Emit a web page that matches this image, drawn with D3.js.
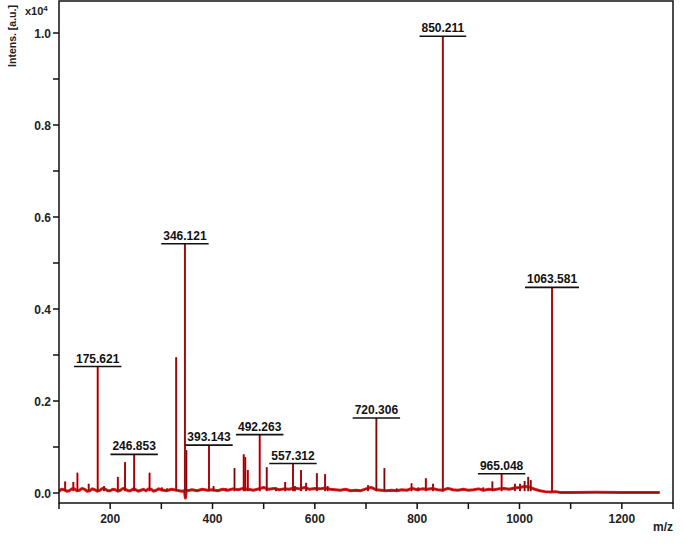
<!DOCTYPE html>
<html><head><meta charset="utf-8">
<script src="https://cdn.jsdelivr.net/npm/d3@7"></script>
<style>
html,body{margin:0;padding:0;background:#fff;}
svg{display:block;font-family:"Liberation Sans",Arial,sans-serif;}
</style></head>
<body><svg id="c" width="683" height="545"></svg>
<script>
// ---- data (m/z, intensity x10^4) ----
const peakMz  = [112,128,136,158,175.621,188,215,229,246.853,277,301,311,329,346.121,349,393.143,402,426,443,461,464,469,492.263,506,524,542,557.312,561,573,583,604,620,625,704,720.306,736,760,789,802,817,831,850.211,929,947,965.048,991,1001,1010,1017,1022,1063.581];
const peakInt = [0.025,0.024,0.044,0.020,0.275,0.015,0.035,0.067,0.084,0.044,0.012,0.010,0.295,0.542,0.093,0.104,0.015,0.010,0.054,0.084,0.078,0.050,0.127,0.056,0.012,0.024,0.064,0.015,0.050,0.022,0.043,0.041,0.015,0.017,0.163,0.054,0.010,0.021,0.012,0.032,0.020,0.993,0.012,0.025,0.042,0.020,0.020,0.026,0.035,0.028,0.447];
const noiseMz  = [100,105,110,115,120,125,130,135,140,145,150,155,160,165,170,175,180,185,190,195,200,205,210,215,220,225,230,235,240,245,250,255,260,265,270,275,280,285,290,295,300,310,320,330,340,345,347,349,355,360,370,380,390,400,410,420,430,440,450,460,470,480,490,500,510,520,530,540,550,560,570,580,590,600,610,620,630,640,650,660,670,680,690,700,710,720,730,740,750,760,770,780,790,800,810,820,830,840,850,860,870,880,890,900,910,920,930,940,950,960,970,980,990,1000,1010,1020,1030,1040,1050,1060,1070,1080,1100,1150,1200,1274];
const noiseInt = [0.004,0.008,0.007,0.004,0.005,0.009,0.009,0.005,0.006,0.010,0.008,0.004,0.005,0.009,0.007,0.004,0.006,0.010,0.009,0.005,0.005,0.008,0.007,0.004,0.006,0.010,0.008,0.005,0.005,0.009,0.007,0.004,0.006,0.008,0.005,0.009,0.008,0.004,0.006,0.009,0.007,0.005,0.008,0.006,0.004,0.005,-0.011,0.005,0.006,0.007,0.005,0.008,0.006,0.007,0.005,0.008,0.006,0.009,0.007,0.010,0.008,0.006,0.009,0.012,0.008,0.010,0.007,0.009,0.008,0.011,0.009,0.012,0.008,0.010,0.009,0.011,0.008,0.007,0.006,0.008,0.005,0.006,0.005,0.009,0.012,0.007,0.006,0.005,0.006,0.005,0.007,0.006,0.010,0.007,0.009,0.008,0.010,0.007,0.006,0.010,0.007,0.006,0.008,0.006,0.007,0.009,0.006,0.008,0.007,0.009,0.010,0.008,0.011,0.012,0.014,0.013,0.008,0.005,0.003,0.002,0.003,0.001,0.001,0.0015,0.001,0.001];
const labelMz = [175.621,246.853,346.121,393.143,492.263,557.312,720.306,850.211,965.048,1063.581];
const xTicks = [100,200,300,400,500,600,700,800,900,1000,1100,1200,1300];
const xTickLabels = [200,400,600,800,1000,1200];
const yTicks = [0,0.1,0.2,0.3,0.4,0.5,0.6,0.7,0.8,0.9,1.0];
const yTickLabels = [0,0.2,0.4,0.6,0.8,1.0];

const svg = d3.select("#c");
const x = d3.scaleLinear().domain([100,1300]).range([59,673]);
const y = d3.scaleLinear().domain([0,1]).range([493,33]);
const plotTop = 1, plotBottom = 503;

// spectrum baseline
const line = d3.line().x(d=>x(d[0])).y(d=>y(d[1]));
const base = noiseMz.map((m,i)=>[m,noiseInt[i]]);
svg.append("path").attr("d",line(base)).attr("fill","none")
  .attr("stroke","#dc1c20").attr("stroke-width",3).attr("stroke-linejoin","round");
svg.append("path").attr("d",line(base)).attr("fill","none")
  .attr("stroke","#8a0808").attr("stroke-width",0.8);

// peaks
const peaks = peakMz.map((m,i)=>({m, v:peakInt[i]}));
svg.append("g").selectAll("line").data(peaks).join("line")
  .attr("x1",d=>x(d.m)).attr("x2",d=>x(d.m))
  .attr("y1",y(0.004)).attr("y2",d=>y(d.v))
  .attr("stroke","#d8141a").attr("stroke-width",2);
svg.append("g").selectAll("line").data(peaks).join("line")
  .attr("x1",d=>x(d.m)).attr("x2",d=>x(d.m))
  .attr("y1",y(0.004)).attr("y2",d=>y(d.v))
  .attr("stroke","#6e0505").attr("stroke-width",0.9);

// frame
svg.append("rect").attr("x",x(100)).attr("y",plotTop).attr("width",x(1300)-x(100)).attr("height",plotBottom-plotTop)
  .attr("fill","none").attr("stroke","#111").attr("stroke-width",1.5);

// x ticks
const gx = svg.append("g");
gx.selectAll("line").data(xTicks).join("line")
  .attr("x1",d=>x(d)).attr("x2",d=>x(d)).attr("y1",plotBottom).attr("y2",plotBottom+6)
  .attr("stroke","#111").attr("stroke-width",1.5);
gx.selectAll("text").data(xTickLabels).join("text")
  .attr("x",d=>x(d)).attr("y",plotBottom+20).attr("text-anchor","middle")
  .attr("font-size",12).attr("font-weight","bold").attr("fill","#222").text(d=>d);
svg.append("text").attr("x",673).attr("y",531).attr("text-anchor","end")
  .attr("font-size",12).attr("font-weight","bold").attr("fill","#222").text("m/z");

// y ticks
const gy = svg.append("g");
gy.selectAll("line").data(yTicks).join("line")
  .attr("x1",x(100)-6).attr("x2",x(100)).attr("y1",d=>y(d)).attr("y2",d=>y(d))
  .attr("stroke","#111").attr("stroke-width",1.5);
gy.selectAll("text").data(yTickLabels).join("text")
  .attr("x",x(100)-8).attr("y",d=>y(d)+4.5).attr("text-anchor","end")
  .attr("font-size",12).attr("font-weight","bold").attr("fill","#222").text(d=>d3.format(".1f")(d));

// axis title and multiplier
svg.append("text").attr("transform","translate(16,36) rotate(-90)").attr("text-anchor","middle")
  .attr("font-size",10.5).attr("font-weight","bold").attr("fill","#222").text("Intens. [a.u.]");
const mt = svg.append("text").attr("x",25).attr("y",15).attr("font-size",11).attr("font-weight","bold").attr("fill","#222");
mt.append("tspan").text("x10");
mt.append("tspan").attr("dy",-4).attr("font-size",8).text("4");

// peak labels
const lab = svg.append("g");
labelMz.forEach(m=>{
  const v = peakInt[peakMz.indexOf(m)];
  const t = lab.append("text").attr("x",x(m)).attr("y",y(v)-4).attr("text-anchor","middle")
    .attr("font-size",12).attr("font-weight","bold").attr("fill","#111").text(d3.format(".3f")(m));
  const w = t.node().getComputedTextLength();
  lab.append("line").attr("x1",x(m)-w/2-2).attr("x2",x(m)+w/2+2).attr("y1",y(v)).attr("y2",y(v))
    .attr("stroke","#111").attr("stroke-width",1.6);
});
</script></body></html>
